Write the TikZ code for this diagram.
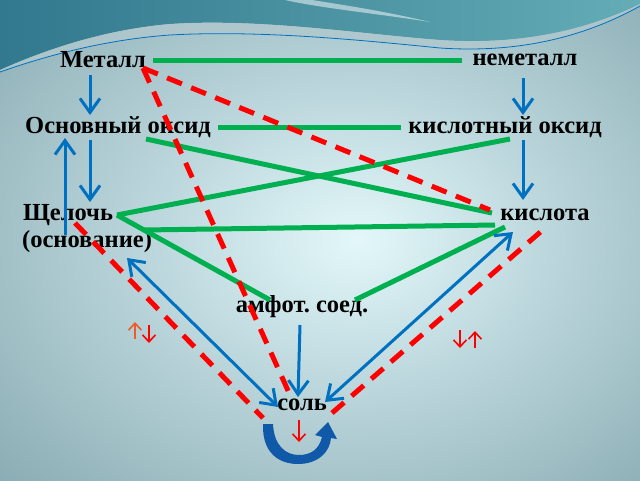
\documentclass[tikz,border=0pt]{standalone}
\usepackage{fontspec}
\setmainfont{Liberation Serif}
\usetikzlibrary{arrows.meta}

\definecolor{lgreen}{RGB}{0,176,80}
\definecolor{lblue}{RGB}{0,112,192}
\definecolor{ublue}{RGB}{16,88,168}
\definecolor{lorange}{RGB}{240,90,40}
\definecolor{tealdark}{RGB}{50,120,142}
\definecolor{teallight}{RGB}{100,172,182}
\definecolor{bandgray}{RGB}{176,200,205}
\pgfdeclareradialshading{glow}{\pgfpoint{3bp}{0bp}}{%
  rgb(0bp)=(0.89,0.97,0.98);
  rgb(14bp)=(0.75,0.855,0.875);
  rgb(38bp)=(0.53,0.665,0.695);
  rgb(72bp)=(0.28,0.42,0.46)}

\tikzset{
  chem/.style={font=\bfseries\fontsize{24.5}{28}\selectfont, inner sep=0pt},
  greenline/.style={lgreen, line width=5pt},
  redline/.style={red, line width=5pt, dash pattern=on 16pt off 10pt},
  bluearrow/.style={lblue, line width=3pt, -{Straight Barb[length=14pt,width=20pt]}},
  bluearrows/.style={bluearrow, {Straight Barb[length=14pt,width=20pt]}-{Straight Barb[length=14pt,width=20pt]}},
  smallarrow/.style={line width=1.6pt, -{Straight Barb[length=7pt,width=13pt]}}
}

\begin{document}
\begin{tikzpicture}[x=1pt,y=-1pt]
    \useasboundingbox (0,0) rectangle (640,480);

    % background
    \shade[shading=glow] (0,0) rectangle (640,480);
    \shade[left color=tealdark, right color=teallight] (0,0) -- (640,0) -- (640,4)
      .. controls (570,38) and (500,44) .. (440,40)
      .. controls (360,34) and (260,18) .. (170,24)
      .. controls (100,30) and (40,52) .. (0,70) -- cycle;
    \fill[bandgray, opacity=0.8] (0,70) .. controls (40,52) and (100,30) .. (170,24)
      .. controls (260,18) and (360,34) .. (440,40)
      .. controls (500,44) and (570,38) .. (640,4) -- (640,6)
      .. controls (570,45) and (500,52) .. (440,48)
      .. controls (360,40) and (260,30) .. (170,35)
      .. controls (100,40) and (40,58) .. (0,72) -- cycle;
    \fill[white, opacity=0.5] (285,0) .. controls (320,8) and (380,14) .. (430,22)
      .. controls (380,10) and (330,3) .. (312,0) -- cycle;
    \draw[lblue, line width=0.8pt] (0,72) .. controls (40,58) and (100,40) .. (170,35)
      .. controls (260,30) and (360,40) .. (440,48)
      .. controls (500,52) and (570,45) .. (640,6);

    % substances
    \node[chem] (met) at (103,60) {Металл};
    \node[chem] (nonmet) at (525,60) {неметалл};
    \node[chem] (baseox) at (118,127) {Основный оксид};
    \node[chem] (acidox) at (505,127) {кислотный оксид};
    \node[chem] (alkali) at (68,215) {Щелочь};
    \node[chem] (basetxt) at (87,242) {(основание)};
    \node[chem] (acid) at (545,215) {кислота};
    \node[chem] (amph) at (302,307) {амфот.\ соед.};
    \node[chem] (salt) at (302,405) {соль};

    % green links
    \draw[greenline] ([xshift=7pt]met.east) -- ([xshift=-10pt]nonmet.west);
    \draw[greenline] ([xshift=7pt]baseox.east) -- ([xshift=-7pt]acidox.west);
    \draw[greenline] ([shift={(28,12)}]baseox.center) -- ([shift={(-53,-2)}]acid.center);
    \draw[greenline] ([shift={(5,12)}]acidox.center) -- ([shift={(49,0)}]alkali.center);
    \draw[greenline] ([shift={(49,0)}]alkali.center) -- ([shift={(-32,-7)}]amph.center);
    \draw[greenline] ([shift={(56,-12)}]basetxt.center) -- ([shift={(-50,10)}]acid.center);
    \draw[greenline] ([shift={(-40,12)}]acid.center) -- ([shift={(53,-7)}]amph.center);

    % red dashed links
    \draw[redline] ([shift={(40,8)}]met.center) -- ([shift={(-55,-5)}]acid.center);
    \draw[redline] ([shift={(40,8)}]met.center) -- ([shift={(-12,-10)}]salt.center);
    \draw[redline] ([shift={(7,8)}]alkali.center) -- ([shift={(-39,13)}]salt.center);
    \draw[redline] ([shift={(30,8)}]salt.center) -- ([shift={(0,13)}]acid.center);

    % blue arrows
    \draw[bluearrow] ([shift={(-13,15)}]met.center) -- ([shift={(-28,-12)}]baseox.center);
    \draw[bluearrow] ([shift={(-2,18)}]nonmet.center) -- ([shift={(18,-12)}]acidox.center);
    \draw[bluearrow] ([shift={(-28,13)}]baseox.center) -- ([shift={(22,-13)}]alkali.center);
    \draw[bluearrow] ([shift={(-22,-7)}]basetxt.center) -- ([shift={(-53,11)}]baseox.center);
    \draw[bluearrow] ([shift={(18,13)}]acidox.center) -- ([shift={(-22,-15)}]acid.center);
    \draw[bluearrows] ([shift={(40,16)}]basetxt.center) -- ([shift={(-24,2)}]salt.center);
    \draw[bluearrows] ([shift={(-32,17)}]acid.center) -- ([shift={(23,-3)}]salt.center);
    \draw[bluearrow] ([shift={(-2,18)}]amph.center) -- ([shift={(-4,-8)}]salt.center);

    % small arrows
    \draw[smallarrow, red] ([shift={(-3,15)}]salt.center) -- ([shift={(-3,37)}]salt.center);
    \draw[smallarrow, lorange] (135,339) -- (135,322);
    \draw[smallarrow, red] (149,325) -- (149,343);
    \draw[smallarrow, red] (460,330) -- (460,348);
    \draw[smallarrow, red] (475,348) -- (475,331);

    % loop under salt
    \fill[ublue] (263,424) .. controls (262,452) and (278,464) .. (298,464)
      .. controls (318,464) and (330,452) .. (331,438) -- (337,439) -- (328,422)
      -- (315,435) -- (322,437) .. controls (319,450) and (310,455) .. (299,455)
      .. controls (285,455) and (274,445) .. (273,424) -- cycle;
\end{tikzpicture}
\end{document}
